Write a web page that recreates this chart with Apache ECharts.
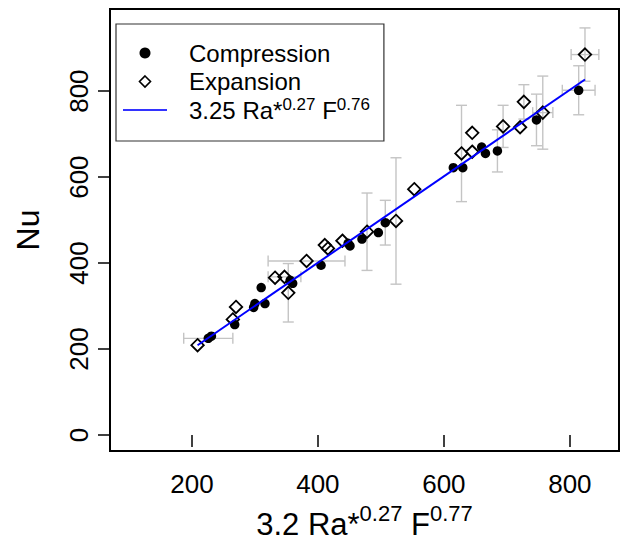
<!DOCTYPE html>
<html><head><meta charset="utf-8">
<script src="https://cdn.jsdelivr.net/npm/echarts@6/dist/echarts.min.js"></script>
<style>html,body{margin:0;padding:0;background:#fff}#c{width:627px;height:545px}</style>
</head><body><div id="c"></div>
<script>
// ---- data ----
const compX = [226, 231, 268, 298, 300, 316, 310, 356, 360, 405, 448, 451, 470, 496, 507, 615, 630, 660, 666, 685, 747, 814];
const compY = [225, 230, 257, 297, 306, 306, 343, 360, 353, 395, 446, 440, 456, 471, 494, 622, 622, 670, 655, 661, 733, 802];
const compXErr = [39, 0, 0, 0, 0, 0, 0, 0, 0, 0, 0, 0, 0, 0, 0, 0, 0, 0, 0, 0, 0, 26];
const compYErr = [0, 0, 0, 0, 0, 0, 0, 0, 0, 0, 0, 0, 0, 0, 52, 0, 0, 0, 0, 49, 60, 57];

const expX = [209, 265, 270, 332, 347, 353, 382, 411, 416, 439, 478, 524, 553, 628, 645, 645, 694, 721, 727, 757, 824];
const expY = [209, 269, 298, 366, 368, 331, 405, 442, 434, 452, 473, 498, 572, 655, 659, 703, 718, 716, 775, 750, 885];
const expXErr = [0, 0, 0, 0, 26, 0, 61, 0, 0, 0, 0, 0, 0, 0, 0, 0, 0, 0, 0, 16, 22];
const expYErr = [0, 0, 0, 0, 0, 68, 0, 0, 0, 0, 90, 147, 0, 112, 0, 0, 49, 0, 40, 85, 62];

const fitX = [209, 824];
const fitY = [209, 827];

const xTicks = [200, 400, 600, 800];
const yTicks = [0, 200, 400, 600, 800];

// ---- build ----
const FONT = "'Liberation Sans', Arial, Helvetica, sans-serif";
const zip = (a, b) => a.map((v, i) => [v, b[i]]);
const errData = [];
compX.forEach((x, i) => { if (compXErr[i] || compYErr[i]) errData.push([x, compY[i], compXErr[i], compYErr[i]]); });
expX.forEach((x, i) => { if (expXErr[i] || expYErr[i]) errData.push([x, expY[i], expXErr[i], expYErr[i]]); });

function renderErr(params, api) {
  const x = api.value(0), y = api.value(1), ex = api.value(2), ey = api.value(3);
  const cap = 5.5;
  const style = { stroke: '#C4C4C4', lineWidth: 1.4, fill: null };
  const ch = [];
  if (ey > 0) {
    const a = api.coord([x, y - ey]), b = api.coord([x, y + ey]);
    ch.push({ type: 'line', shape: { x1: a[0], y1: a[1], x2: b[0], y2: b[1] }, style });
    ch.push({ type: 'line', shape: { x1: a[0] - cap, y1: a[1], x2: a[0] + cap, y2: a[1] }, style });
    ch.push({ type: 'line', shape: { x1: b[0] - cap, y1: b[1], x2: b[0] + cap, y2: b[1] }, style });
  }
  if (ex > 0) {
    const a = api.coord([x - ex, y]), b = api.coord([x + ex, y]);
    ch.push({ type: 'line', shape: { x1: a[0], y1: a[1], x2: b[0], y2: b[1] }, style });
    ch.push({ type: 'line', shape: { x1: a[0], y1: a[1] - cap, x2: a[0], y2: a[1] + cap }, style });
    ch.push({ type: 'line', shape: { x1: b[0], y1: b[1] - cap, x2: b[0], y2: b[1] + cap }, style });
  }
  return { type: 'group', children: ch };
}

const DIAMOND = 'path://M0,-10 L10,0 L0,10 L-10,0 Z';
const LINEICON = 'path://M0,0 L44,0 L44,2 L0,2 Z';
const FIT_NAME = '3.25 Ra*^0.27 F^0.76';
const chart = echarts.init(document.getElementById('c'), null, { renderer: 'svg' });
chart.setOption({
  animation: false,
  backgroundColor: '#ffffff',
  textStyle: { fontFamily: FONT },
  grid: { left: 110, right: 8, top: 9, bottom: 94, show: true, borderColor: '#000', borderWidth: 2, backgroundColor: 'transparent' },
  legend: {
    orient: 'vertical', left: 116, top: 24,
    padding: [15, 14, 17, 7],
    borderColor: '#333', borderWidth: 1.2,
    itemWidth: 44, itemHeight: 11, itemGap: 0.5,
    selectedMode: false,
    symbolKeepAspect: true,
    textStyle: {
      fontFamily: FONT, fontSize: 24, color: '#000', lineHeight: 28, padding: [0, 0, 0, 17],
      rich: {
        n: { fontFamily: FONT, fontSize: 24, lineHeight: 28, color: '#000' },
        s: { fontFamily: FONT, fontSize: 17, lineHeight: 14, verticalAlign: 'top', color: '#000' }
      }
    },
    formatter: function (name) {
      if (name === FIT_NAME) return '{n|3.25 Ra*}{s|0.27}{n| F}{s|0.76}';
      return name;
    },
    data: [
      { name: 'Compression', icon: 'circle', itemStyle: { color: '#000', opacity: 1 } },
      { name: 'Expansion', icon: DIAMOND, symbolKeepAspect: true, itemStyle: { color: 'rgba(0,0,0,0)', borderColor: '#000', borderWidth: 1.6, opacity: 1 } },
      { name: FIT_NAME, icon: LINEICON, symbolKeepAspect: true, itemStyle: { color: '#3333FF', borderWidth: 0, opacity: 1 } }
    ]
  },
  xAxis: {
    type: 'value', min: 70, max: 878,
    splitLine: { show: false },
    axisLine: { show: false },
    axisTick: { show: true, length: 12, inside: false, lineStyle: { color: '#000', width: 1.5 }, customValues: xTicks },
    axisLabel: { fontSize: 26, color: '#000', fontFamily: FONT, margin: 20, customValues: xTicks },
    name: '{n|3.2 Ra*}{s|0.27}{n| F}{s|0.77}',
    nameLocation: 'middle', nameGap: 51,
    nameTextStyle: {
      rich: {
        n: { fontFamily: FONT, fontSize: 31, lineHeight: 44, color: '#000' },
        s: { fontFamily: FONT, fontSize: 22, lineHeight: 22, verticalAlign: 'top', color: '#000' }
      }
    }
  },
  yAxis: {
    type: 'value', min: -37, max: 991,
    splitLine: { show: false },
    axisLine: { show: false },
    axisTick: { show: true, length: 12, inside: false, lineStyle: { color: '#000', width: 1.5 }, customValues: yTicks },
    axisLabel: { fontSize: 26, color: '#000', fontFamily: FONT, margin: 18, rotate: 90, customValues: yTicks },
    name: 'Nu', nameLocation: 'middle', nameGap: 66, nameRotate: 90,
    nameTextStyle: { fontFamily: FONT, fontSize: 32, color: '#000' }
  },
  series: [
    {
      type: 'custom', name: 'err', renderItem: renderErr, data: errData, z: 1, silent: true,
      encode: { x: 0, y: 1 }
    },
    {
      type: 'scatter', name: 'Compression', data: zip(compX, compY), symbol: 'circle', symbolSize: 9.5,
      itemStyle: { color: '#000', opacity: 1 }, z: 3
    },
    {
      type: 'scatter', name: 'Expansion', data: zip(expX, expY), symbol: DIAMOND, symbolSize: 12.5,
      symbolKeepAspect: true,
      itemStyle: { color: 'rgba(0,0,0,0)', borderColor: '#000', borderWidth: 1.8, opacity: 1 }, z: 3
    },
    {
      type: 'line', name: FIT_NAME, data: zip(fitX, fitY), symbol: 'none', showSymbol: false,
      symbolKeepAspect: true,
      lineStyle: { color: '#0000FF', width: 2 }, itemStyle: { color: '#0000FF' }, z: 4
    }
  ]
});
</script>
</body></html>
